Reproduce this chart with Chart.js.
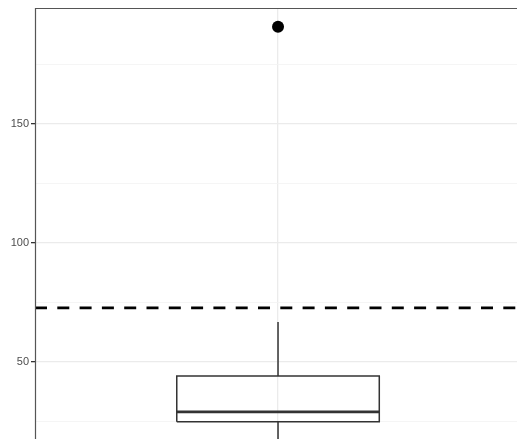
<!DOCTYPE html>
<html>
<head>
<meta charset="utf-8">
<script src="https://cdn.jsdelivr.net/npm/chart.js@4/dist/chart.umd.min.js"></script>
<style>
  html, body { margin: 0; padding: 0; background: #fff; overflow: hidden; }
  canvas { display: block; }
</style>
</head>
<body>
<canvas id="grafico" width="517" height="439"></canvas>
<script>
// --- DATOS ---
const categorias = ['1'];
const cuartil1 = [24.8];
const mediana = [29];
const cuartil3 = [44.1];
const bigoteAlto = [66.8];
const bigoteBajo = [10];
const atipicos = [190.8];
const lineaReferencia = [72.7];
const ticksY = [50, 100, 150];

// --- PARÁMETROS ---
// el panel sigue más allá del borde derecho e inferior de la imagen
const X_MIN = 0.4, X_MAX = 1.59;
const Y_MIN = 17.6, Y_MAX = 198.7;
const ANCHO_CAJA = 0.5;

const centro = 1;
const izq = centro - ANCHO_CAJA / 2;
const der = centro + ANCHO_CAJA / 2;

// solo se ven el borde superior e izquierdo del panel
const bordePanel = {
  id: 'bordePanel',
  afterDraw(chart) {
    const { ctx, chartArea: a } = chart;
    ctx.save();
    ctx.strokeStyle = '#555555';
    ctx.lineWidth = 1.2;
    ctx.beginPath();
    ctx.moveTo(a.left + 0.5, a.bottom + 2);
    ctx.lineTo(a.left + 0.5, a.top + 0.5);
    ctx.lineTo(a.right + 2, a.top + 0.5);
    ctx.stroke();
    ctx.restore();
  }
};

const sinRelleno = s => {
  s.paddingTop = 0; s.paddingBottom = 0; s.paddingLeft = 0; s.paddingRight = 0;
};

const linea = (data, extra) => Object.assign({
  data, showLine: true, pointRadius: 0, borderColor: '#333333', borderWidth: 1.5, fill: false
}, extra);

new Chart(document.getElementById('grafico'), {
  type: 'scatter',
  data: {
    datasets: [
      linea([{ x: centro, y: cuartil3[0] }, { x: centro, y: bigoteAlto[0] }]),
      linea([{ x: centro, y: cuartil1[0] }, { x: centro, y: bigoteBajo[0] }]),
      linea([
        { x: izq, y: cuartil1[0] }, { x: der, y: cuartil1[0] },
        { x: der, y: cuartil3[0] }, { x: izq, y: cuartil3[0] },
        { x: izq, y: cuartil1[0] }
      ], { backgroundColor: '#ffffff', fill: true }),
      linea([{ x: izq, y: mediana[0] }, { x: der, y: mediana[0] }], { borderWidth: 2.8 }),
      linea([{ x: X_MIN, y: lineaReferencia[0] }, { x: X_MAX, y: lineaReferencia[0] }],
        { borderColor: '#000000', borderWidth: 2.6, borderDash: [12, 10.3] }),
      {
        data: atipicos.map(v => ({ x: centro, y: v })),
        pointRadius: 6, backgroundColor: '#000000', borderColor: '#000000', borderWidth: 0
      }
    ]
  },
  options: {
    responsive: false,
    animation: false,
    layout: { autoPadding: false, padding: { top: 8, right: 0, bottom: 0, left: 0 } },
    plugins: { legend: { display: false }, tooltip: { enabled: false } },
    scales: {
      x: {
        type: 'linear', min: X_MIN, max: X_MAX,
        afterBuildTicks: s => { s.ticks = categorias.map((c, i) => ({ value: i + 1 })); },
        afterFit: s => { s.height = 0; sinRelleno(s); },
        ticks: { display: false },
        border: { display: false },
        grid: { color: '#ebebeb', lineWidth: 1.3, drawTicks: false }
      },
      y: {
        min: Y_MIN, max: Y_MAX,
        afterBuildTicks: s => {
          const t = [];
          for (let v = 25; v <= 175; v += 25) t.push({ value: v });
          s.ticks = t;
        },
        afterFit: s => { s.width = 35; sinRelleno(s); },
        border: { display: false },
        grid: {
          color: c => ticksY.includes(c.tick.value) ? '#ebebeb' : '#f3f3f3',
          lineWidth: c => ticksY.includes(c.tick.value) ? 1.3 : 0.8,
          tickColor: c => ticksY.includes(c.tick.value) ? '#333333' : 'rgba(0,0,0,0)',
          tickLength: 4,
          drawTicks: true
        },
        ticks: {
          padding: 2,
          color: '#4d4d4d',
          font: { family: 'Liberation Sans, Arial, sans-serif', size: 11 },
          callback: v => ticksY.includes(v) ? String(v) : ''
        }
      }
    }
  },
  plugins: [bordePanel]
});
</script>
</body>
</html>
